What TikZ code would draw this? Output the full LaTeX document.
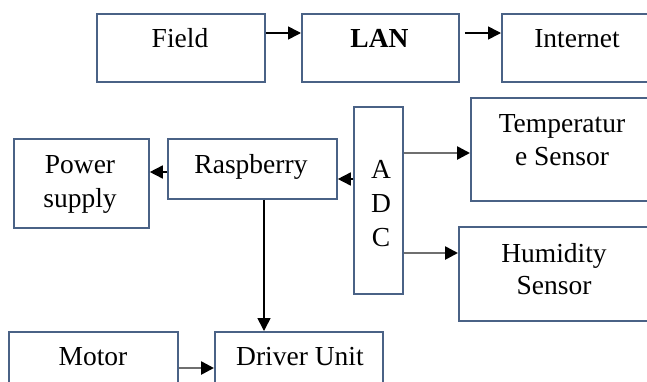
\documentclass[tikz,border=0pt]{standalone}
\usepackage{fontspec}
\setmainfont{Liberation Serif}
\usetikzlibrary{arrows.meta}
\definecolor{boxline}{HTML}{4A6286}
\definecolor{shaftgray}{HTML}{6F6F6F}
\begin{document}
\begin{tikzpicture}[x=1pt,y=-1pt,
  box/.style={draw=boxline, line width=1.8pt, fill=white, inner sep=0pt, anchor=north west},
  txt/.style={anchor=base, align=center, inner sep=0pt, font=\fontsize{27.5}{33}\selectfont},
  arr/.style={draw=black, line width=1.6pt, -{Triangle[length=13pt,width=13pt]}},
  garr/.style={draw=shaftgray, line width=2.6pt, -{Triangle[length=13pt,width=13pt,color=black]}}]
\useasboundingbox (0,0) rectangle (647,381);
\clip (0,0) rectangle (647,381);
\fill[white] (0,0) rectangle (647,381);
% boxes
\node[box, minimum width=168pt, minimum height=68pt] (field) at (96,13) {};
\node[box, minimum width=157pt, minimum height=68pt] (lan) at (301,13) {};
\node[box, minimum width=152pt, minimum height=68pt] (internet) at (501,13) {};
\node[box, minimum width=135pt, minimum height=89pt] (power) at (13,138) {};
\node[box, minimum width=169pt, minimum height=60pt] (rasp) at (167,138) {};
\node[box, minimum width=49pt, minimum height=187pt] (adc) at (353,106) {};
\node[box, minimum width=184pt, minimum height=103pt] (temp) at (470,97) {};
\node[box, minimum width=192pt, minimum height=94pt] (hum) at (458,226) {};
\node[box, minimum width=169pt, minimum height=70pt] (motor) at (8,331) {};
\node[box, minimum width=168pt, minimum height=70pt] (driver) at (214,331) {};
% texts (anchor base = baseline of the last line)
\node[txt] (fieldT) at (180,47) {Field};
\node[txt, font=\fontsize{27.5}{33}\selectfont\bfseries] (lanT) at (379.5,47) {LAN};
\node[txt] (internetT) at (577,47) {Internet};
\node[txt, font=\fontsize{27.5}{34}\selectfont] (powerT) at (80,207) {Power\\supply};
\node[txt] (raspT) at (251,173) {Raspberry};
\node[txt, font=\fontsize{27.5}{34}\selectfont] (adcT) at (381,246) {A\\D\\C};
\node[txt] (tempT) at (562,165) {Temperatur\\e Sensor};
\node[txt, font=\fontsize{27.5}{32}\selectfont] (humT) at (554,294) {Humidity\\Sensor};
\node[txt] (motorT) at (93,365) {Motor};
\node[txt] (driverT) at (300,365) {Driver Unit};
% connectors
\draw[arr] ([yshift=-20pt]field.north east) -- ([yshift=-20pt]lan.north west);
\draw[arr] ([xshift=5pt,yshift=-20pt]lan.north east) -- ([yshift=-20pt]internet.north west);
\draw[arr] ([yshift=-34pt]rasp.north west) -- ([yshift=-34pt]power.north east);
\draw[arr] ([yshift=-73pt]adc.north west) -- ([yshift=-41pt]rasp.north east);
\draw[garr] ([yshift=-47pt]adc.north east) -- ([yshift=-56pt]temp.north west);
\draw[garr] ([yshift=-147pt]adc.north east) -- ([yshift=-27pt]hum.north west);
\draw[arr] ([xshift=97pt]rasp.south west) -- ([xshift=50pt]driver.north west);
\draw[garr] ([yshift=-37pt]motor.north east) -- ([yshift=-37pt]driver.north west);
\end{tikzpicture}
\end{document}
